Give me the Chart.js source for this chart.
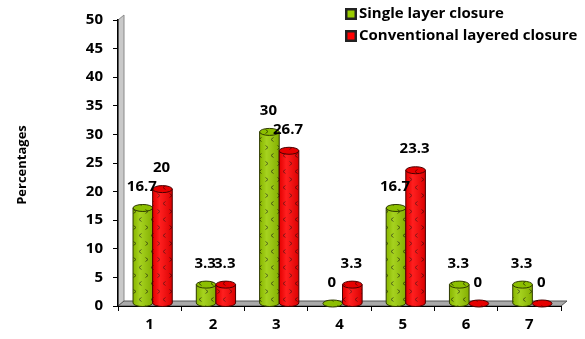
<!DOCTYPE html>
<html>
<head>
<meta charset="utf-8">
<script src="https://cdn.jsdelivr.net/npm/chart.js@4.4.1/dist/chart.umd.min.js"></script>
<style>
  html, body { margin: 0; padding: 0; background: #fff; }
  #wrap { width: 585px; height: 339px; }
</style>
</head>
<body>
<div id="wrap"><canvas id="c" width="585" height="339"></canvas></div>
<script>
// Categories and series values
const categories = ['1', '2', '3', '4', '5', '6', '7'];
const singleLayer = [16.7, 3.3, 30, 0, 16.7, 3.3, 3.3];
const conventional = [20, 3.3, 26.7, 3.3, 23.3, 0, 0];
const seriesNames = ['Single layer closure', 'Conventional layered closure'];
const axisTitle = 'Percentages';
const yMin = 0, yMax = 50, yStep = 5;

const FONT = '"Open Sans", Lato, "DejaVu Sans", sans-serif';
const DEPTH_X = 6, DEPTH_Y = 5;   // 3D depth of wall/floor

// Patterned fills with small chevron marks
function makePattern(base, mark) {
  const c = document.createElement('canvas');
  c.width = 12; c.height = 16;
  const g = c.getContext('2d');
  g.fillStyle = base; g.fillRect(0, 0, 12, 16);
  g.strokeStyle = mark; g.lineWidth = 1;
  g.beginPath();
  // ">" mark
  g.moveTo(1.5, 1.5); g.lineTo(4, 3.5); g.lineTo(1.5, 5.5);
  // "<" mark
  g.moveTo(9.5, 9.5); g.lineTo(7, 11.5); g.lineTo(9.5, 13.5);
  g.stroke();
  return g.createPattern(c, 'repeat');
}

const ctx0 = document.getElementById('c').getContext('2d');
const styles = [
  { body: makePattern('#99cc00', '#3d5200'), top: makePattern('#8cbf00', '#3d5200'), line: '#2e3a00', legend: '#99cc00' },
  { body: makePattern('#ff0000', '#7a0000'), top: makePattern('#e60000', '#7a0000'), line: '#4a0000', legend: '#ff0000' }
];

function cylinder(ctx, cx, top, bottom, w, st) {
  const rx = w / 2, ry = 3.5;
  ctx.save();
  ctx.lineWidth = 1;
  ctx.strokeStyle = st.line;
  if (bottom - top > 0.5) {
    ctx.beginPath();
    ctx.moveTo(cx - rx, top);
    ctx.lineTo(cx - rx, bottom);
    ctx.ellipse(cx, bottom, rx, ry, 0, Math.PI, 0, true);
    ctx.lineTo(cx + rx, top);
    ctx.closePath();
    ctx.fillStyle = st.body;
    ctx.fill();
    // soft shading across the cylinder
    const gr = ctx.createLinearGradient(cx - rx, 0, cx + rx, 0);
    gr.addColorStop(0, 'rgba(0,0,0,0.10)');
    gr.addColorStop(0.35, 'rgba(255,255,255,0.12)');
    gr.addColorStop(1, 'rgba(0,0,0,0.15)');
    ctx.fillStyle = gr;
    ctx.fill();
    ctx.stroke();
  }
  ctx.beginPath();
  ctx.ellipse(cx, top, rx, ry, 0, 0, Math.PI * 2);
  ctx.fillStyle = st.top;
  ctx.fill();
  ctx.stroke();
  ctx.restore();
}

const frame3d = {
  id: 'frame3d',
  beforeDraw(chart) {
    const { ctx, chartArea: a } = chart;
    ctx.save();
    // back wall
    ctx.beginPath();
    ctx.moveTo(a.left, a.bottom);
    ctx.lineTo(a.left, a.top);
    ctx.lineTo(a.left + DEPTH_X, a.top - DEPTH_Y);
    ctx.lineTo(a.left + DEPTH_X, a.bottom - DEPTH_Y);
    ctx.closePath();
    ctx.fillStyle = '#c9c9c9';
    ctx.fill();
    ctx.strokeStyle = '#8a8a8a';
    ctx.lineWidth = 1;
    ctx.stroke();
    // floor
    ctx.beginPath();
    ctx.moveTo(a.left, a.bottom);
    ctx.lineTo(a.right, a.bottom);
    ctx.lineTo(a.right + DEPTH_X, a.bottom - DEPTH_Y);
    ctx.lineTo(a.left + DEPTH_X, a.bottom - DEPTH_Y);
    ctx.closePath();
    ctx.fillStyle = '#a9a9a9';
    ctx.fill();
    ctx.strokeStyle = '#555';
    ctx.stroke();
    ctx.restore();
  }
};

const cylinders = {
  id: 'cylinders',
  afterDatasetsDraw(chart) {
    const ctx = chart.ctx;
    const ox = DEPTH_X / 2, oy = -DEPTH_Y / 2;
    const labels = [];
    chart.data.datasets.forEach((ds, di) => {
      const meta = chart.getDatasetMeta(di);
      meta.data.forEach((el, i) => {
        const cx = el.x + ox;
        const top = el.y + oy;
        const bottom = el.base + oy;
        cylinder(ctx, cx, top, bottom, el.width, styles[di]);
        labels.push({ x: cx - 1, y: top - 21, t: String(ds.data[i]) });
      });
    });
    ctx.save();
    ctx.font = 'bold 15px ' + FONT;
    ctx.fillStyle = '#000';
    ctx.textAlign = 'center';
    ctx.textBaseline = 'middle';
    labels.forEach(l => ctx.fillText(l.t, l.x, l.y));
    ctx.restore();
  }
};

const extras = {
  id: 'extras',
  afterDraw(chart) {
    const ctx = chart.ctx;
    ctx.save();
    // legend
    ctx.font = 'bold 15px ' + FONT;
    ctx.textBaseline = 'middle';
    ctx.textAlign = 'left';
    seriesNames.forEach((name, i) => {
      const y = 14 + i * 22;
      ctx.fillStyle = '#222';
      ctx.fillRect(345, y - 6, 12, 12);
      ctx.fillStyle = styles[i].legend;
      ctx.fillRect(347.5, y - 3.5, 7, 7);
      ctx.fillStyle = '#000';
      ctx.fillText(name, 359, y);
    });
    // y axis title
    ctx.translate(22, 165);
    ctx.rotate(-Math.PI / 2);
    ctx.textAlign = 'center';
    ctx.font = 'bold 13px ' + FONT;
    ctx.fillText(axisTitle, 0, 0);
    ctx.restore();
  }
};

new Chart(ctx0, {
  type: 'bar',
  data: {
    labels: categories,
    datasets: [
      { label: seriesNames[0], data: singleLayer, backgroundColor: 'rgba(0,0,0,0)', borderWidth: 0 },
      { label: seriesNames[1], data: conventional, backgroundColor: 'rgba(0,0,0,0)', borderWidth: 0 }
    ]
  },
  options: {
    responsive: false,
    animation: false,
    devicePixelRatio: 1,
    categoryPercentage: 0.62,
    barPercentage: 1.0,
    layout: { padding: { left: 0, right: 24, top: 20, bottom: 0 } },
    plugins: { legend: { display: false }, tooltip: { enabled: false } },
    scales: {
      x: {
        afterFit(s) { s.height = 33; },
        grid: { drawOnChartArea: false, drawTicks: true, tickLength: 5, color: '#000', offset: true },
        border: { color: '#000', width: 1 },
        ticks: { color: '#000', font: { family: FONT, size: 15, weight: 'bold' }, padding: 5 }
      },
      y: {
        min: yMin, max: yMax,
        afterFit(s) { s.width = 118; },
        grid: { drawOnChartArea: false, drawTicks: true, tickLength: 5, color: '#000' },
        border: { color: '#000', width: 1.5 },
        ticks: { stepSize: yStep, color: '#000', font: { family: FONT, size: 15, weight: 'bold' }, padding: 10 }
      }
    }
  },
  plugins: [frame3d, cylinders, extras]
});
</script>
</body>
</html>
